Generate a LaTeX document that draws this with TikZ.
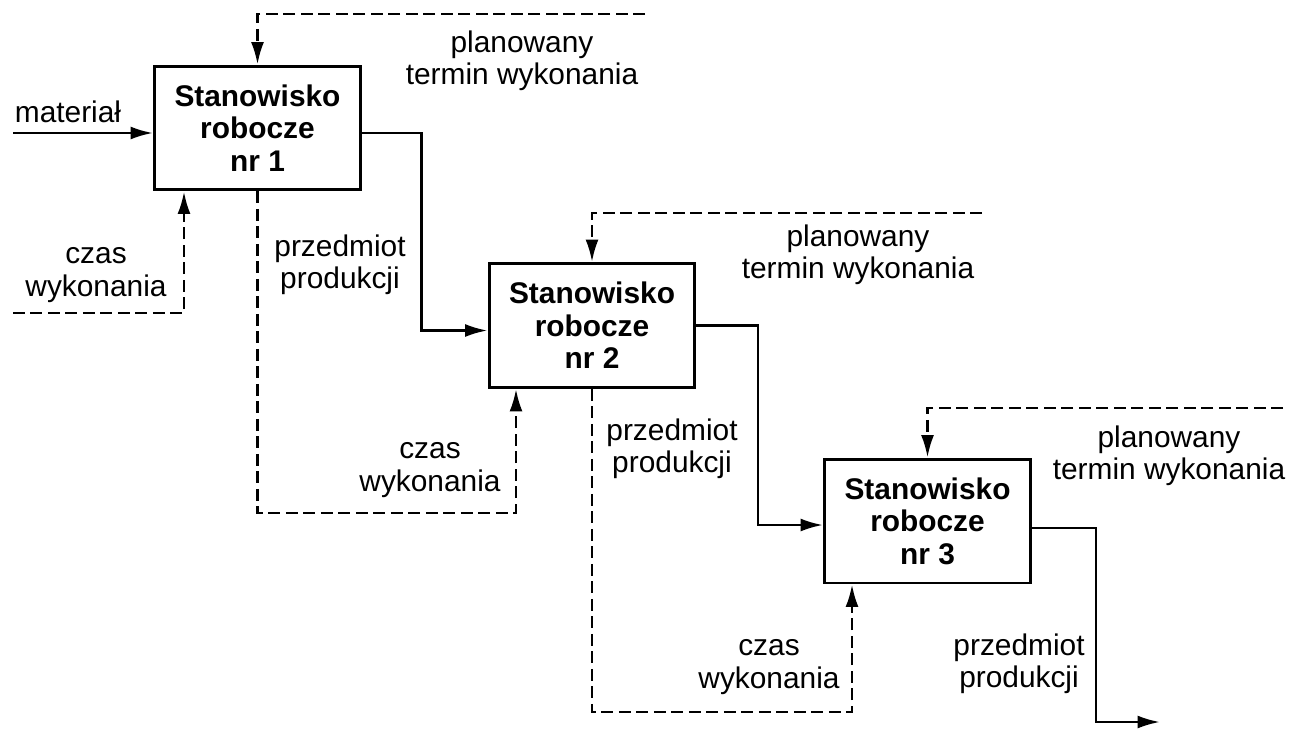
\documentclass[tikz,border=0pt]{standalone}
\usepackage{fontspec}
\setmainfont{Liberation Sans}
\usetikzlibrary{arrows.meta,calc}
\begin{document}
\begin{tikzpicture}[x=0.02cm,y=-0.02cm,
  box/.style={draw, line width=1.7pt, minimum width=4.12cm, minimum height=2.48cm,
    inner sep=0pt, align=center, font=\fontsize{17}{18.5}\selectfont\bfseries},
  lbl/.style={align=center, inner sep=0pt, font=\fontsize{17}{18.5}\selectfont},
  tip/.style={-{Latex[length=4.5mm,width=2.6mm]}},
  flow/.style={line width=1.5pt, tip},
  ctrl/.style={line width=1.5pt, dash pattern=on 0.24cm off 0.11cm, tip}]
\useasboundingbox (0,0) rectangle (1293,733);

% work stations
\node[box] (b1) at (257.5,128) {Stanowisko\\robocze\\nr 1};
\node[box] (b2) at (592,325.5) {Stanowisko\\robocze\\nr 2};
\node[box] (b3) at (927.5,521) {Stanowisko\\robocze\\nr 3};

% free ends of the connectors
\coordinate (in1) at (13,133);
\coordinate (t1) at (645,14);
\coordinate (c1) at (13,313);
\coordinate (t2) at (982,213);
\coordinate (t3) at (1283,408);
\coordinate (out3) at (1160,722);

% material flow
\draw[flow] (in1) -- (b1.west |- in1);
\draw[flow] ($(b1.east)+(0,5)$) -| ($(b2.west)+(-66,5)$) -- ($(b2.west)+(0,5)$);
\draw[flow] (b2.east) -| ($(b3.west)+(-65,4)$) -- ($(b3.west)+(0,4)$);
\draw[flow] ($(b3.east)+(0,7)$) -| (out3 -| 1096,0) -- (out3);

% planned completion dates
\draw[ctrl] (t1) -| (b1.north);
\draw[ctrl] (t2) -| (b2.north);
\draw[ctrl] (t3) -| (b3.north);

% execution times
\draw[ctrl] (c1) -| ($(b1.south)+(-73.5,0)$);
\draw[ctrl] (b1.south) |- (516,513) -- ($(b2.south)+(-76,0)$);
\draw[ctrl] (b2.south) |- (852,712) -- ($(b3.south)+(-75.5,0)$);

% labels
\node[lbl] (m1) at (68,112) {materiał};
\node[lbl] (p1) at (522,61) {planowany\\termin wykonania};
\node[lbl] (w1) at (96,275) {czas\\wykonania};
\node[lbl] (o1) at (340,265) {przedmiot\\produkcji};
\node[lbl] (p2) at (858,255) {planowany\\termin wykonania};
\node[lbl] (w2) at (430,470) {czas\\wykonania};
\node[lbl] (o2) at (672,449) {przedmiot\\produkcji};
\node[lbl] (p3) at (1169,456) {planowany\\termin wykonania};
\node[lbl] (w3) at (769,667) {czas\\wykonania};
\node[lbl] (o3) at (1019,664) {przedmiot\\produkcji};
\end{tikzpicture}
\end{document}
